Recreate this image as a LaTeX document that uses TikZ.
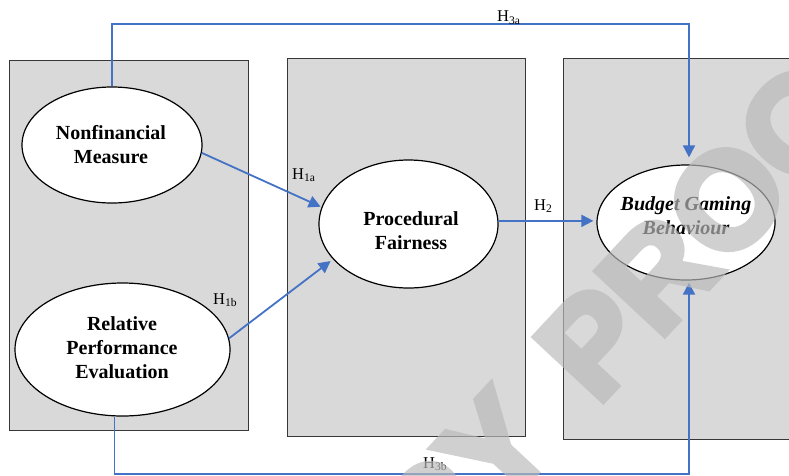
\documentclass[tikz,border=0pt]{standalone}
\usepackage{fontspec}
\setmainfont{Liberation Serif}
\newfontfamily\wmfont[FakeBold=5]{Liberation Sans Bold}
\usetikzlibrary{shapes.geometric,arrows.meta,calc}
\definecolor{boxgray}{RGB}{217,217,217}
\definecolor{boxline}{RGB}{55,55,55}
\definecolor{hblue}{RGB}{68,114,196}
\definecolor{wmgray}{RGB}{186,186,186}
\begin{document}
\begin{tikzpicture}[x=1pt,y=-1pt,
  stage/.style={draw=boxline, line width=1.4pt, fill=boxgray, anchor=north west, inner sep=0pt},
  construct/.style={ellipse, draw=black, line width=1.2pt, fill=white, inner sep=0pt},
  ctext/.style={font=\fontsize{20}{24}\selectfont\bfseries, align=center, inner sep=0pt},
  hyp/.style={hblue, line width=1.8pt, -{Triangle[length=12pt,width=12pt]}, shorten >=2pt},
  hlabel/.style={font=\fontsize{16.5}{19}\selectfont, inner sep=0pt, anchor=base west},
  wm/.style={font=\wmfont\fontsize{135}{135}\selectfont, text=wmgray, inner sep=0pt, rotate=47}
]
\clip (0,0) rectangle (789,475);
% stages
\node[stage, minimum width=239pt, minimum height=370.5pt] (s1) at (9,59.5) {};
\node[stage, minimum width=238pt, minimum height=377.5pt] (s2) at (287,58) {};
\node[stage, minimum width=257pt, minimum height=380.5pt] (s3) at (563,58) {};
% constructs
\node[construct, minimum width=180pt, minimum height=116pt] (nm) at (112,145) {};
\node[ctext] (nmt) at (111,145) {Nonfinancial\\Measure};
\node[construct, minimum width=215pt, minimum height=133pt] (rpe) at (122.5,349.5) {};
\node[ctext] (rpet) at (122,348) {Relative\\Performance\\Evaluation};
\node[construct, minimum width=179pt, minimum height=128pt] (pf) at (408.5,224) {};
\node[ctext] (pft) at (411,231) {Procedural\\Fairness};
\node[construct, minimum width=178pt, minimum height=115pt] (bgb) at (686,222.5) {};
\node[ctext, font=\fontsize{20}{24}\selectfont\bfseries\itshape] (bgbt) at (686,216) {Budget Gaming\\Behaviour};
% helper coordinates
\coordinate (top) at (0,24);
\coordinate (bot) at (0,474);
% hypotheses
\draw[hyp, shorten >=1pt] (nm.-5) -- (pf.169);
\draw[hyp, shorten >=3pt] (rpe.6) -- (pf.205);
\draw[hyp, shorten >=3pt] (pf.2) -- (pf.2 -| bgb.west);
\draw[hyp, shorten >=7pt] (nm.north) -- (nm.north |- top) -| ([xshift=3pt]bgb.north);
\draw[hyp, shorten >=2pt] ([xshift=-8pt]rpe.south) -- ([xshift=-8pt]rpe.south |- bot) -| ([xshift=3pt]bgb.south);
% labels
\node[hlabel] (h3a) at (497,21.5) {H\textsubscript{3a}};
\node[hlabel] (h3b) at (423,468) {H\textsubscript{3b}};
\node[hlabel] (h2) at (534,210) {H\textsubscript{2}};
\node[hlabel] (h1a) at (292,179) {H\textsubscript{1a}};
\node[hlabel] (h1b) at (213,304) {H\textsubscript{1b}};
% watermark
\begin{scope}[transparency group, opacity=0.68]
\node[wm, anchor=base west] (wmp) at (597,407) {PROOF};
\node[wm, anchor=base east] (wmc) at ([shift={(-36.8,39.5)}]wmp.base west) {COPY};
\end{scope}
\end{tikzpicture}
\end{document}
